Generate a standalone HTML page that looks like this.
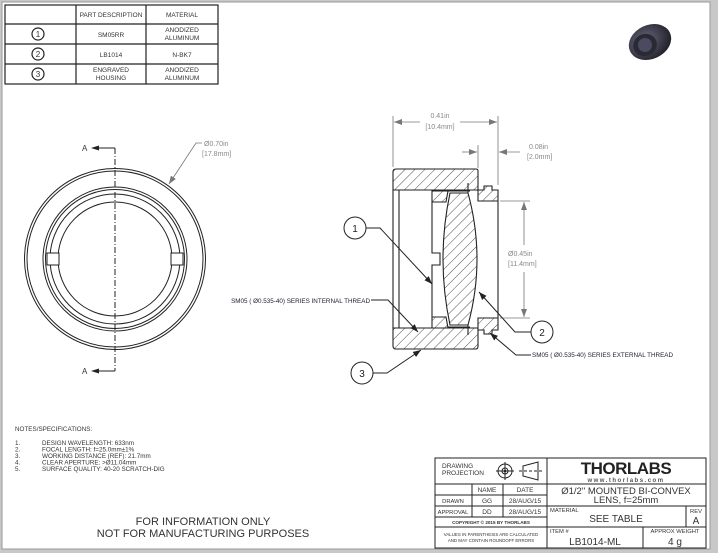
<!DOCTYPE html>
<html><head><meta charset="utf-8"><style>
html,body{margin:0;padding:0;background:#c8c8c8;}
svg{display:block;font-family:"Liberation Sans",sans-serif;}
</style></head><body>
<svg width="718" height="553" viewBox="0 0 718 553" xmlns="http://www.w3.org/2000/svg">
<defs>
<pattern id="h" patternUnits="userSpaceOnUse" width="7" height="7" patternTransform="rotate(45)">
<rect width="7" height="7" fill="#fff"/><line x1="0" y1="0" x2="0" y2="7" stroke="#222" stroke-width="0.8"/>
</pattern>
<marker id="ar" markerWidth="8" markerHeight="6" refX="8" refY="3" orient="auto" markerUnits="userSpaceOnUse"><path d="M0,0 L8,3 L0,6z" fill="#222"/></marker>
<marker id="ag" markerWidth="8" markerHeight="6" refX="8" refY="3" orient="auto" markerUnits="userSpaceOnUse"><path d="M0,0 L8,3 L0,6z" fill="#777"/></marker>
<radialGradient id="cg" cx="0.4" cy="0.4" r="0.7"><stop offset="0" stop-color="#6a6a80"/><stop offset="1" stop-color="#1a1a22"/></radialGradient>
</defs>
<rect x="2" y="2" width="708" height="547" fill="#fff" stroke="#999" stroke-width="1"/>

<!-- parts table -->
<g stroke="#222" stroke-width="1.2" fill="none">
<rect x="5" y="5" width="213" height="79"/>
<line x1="76" y1="5" x2="76" y2="84"/><line x1="146" y1="5" x2="146" y2="84"/>
<line x1="5" y1="24" x2="218" y2="24"/><line x1="5" y1="44" x2="218" y2="44"/><line x1="5" y1="64" x2="218" y2="64"/>
<circle cx="38" cy="34" r="6"/><circle cx="38" cy="54" r="6"/><circle cx="38" cy="74" r="6"/>
</g>
<g font-size="6.5" fill="#333" text-anchor="middle">
<text x="38" y="37" font-size="8">1</text><text x="38" y="57" font-size="8">2</text><text x="38" y="77" font-size="8">3</text>
<text x="111" y="17">PART DESCRIPTION</text><text x="182" y="17">MATERIAL</text>
<text x="111" y="37">SM05RR</text><text x="182" y="32">ANODIZED</text><text x="182" y="40">ALUMINUM</text>
<text x="111" y="57">LB1014</text><text x="182" y="57">N-BK7</text>
<text x="111" y="72">ENGRAVED</text><text x="111" y="80">HOUSING</text><text x="182" y="72">ANODIZED</text><text x="182" y="80">ALUMINUM</text>
</g>

<!-- photo -->
<g>
<ellipse cx="650" cy="42" rx="22" ry="17" fill="url(#cg)" transform="rotate(-25 650 42)"/>
<ellipse cx="645" cy="45" rx="12" ry="11" fill="#2a2a35" transform="rotate(-25 645 45)"/>
<ellipse cx="645" cy="45" rx="7" ry="7" fill="#4a4a60"/>
</g>

<!-- front view -->
<g stroke="#222" stroke-width="1" fill="none">
<circle cx="115" cy="259" r="90.5"/><circle cx="115" cy="259" r="88"/>
<circle cx="115" cy="259" r="72"/><circle cx="115" cy="259" r="69.5"/><circle cx="115" cy="259" r="65"/><circle cx="115" cy="259" r="57"/>
<rect x="47" y="253" width="12" height="12" fill="#fff"/><rect x="171" y="253" width="12" height="12" fill="#fff"/>
<line x1="115" y1="148" x2="115" y2="371" stroke-dasharray="6,2,1,2"/>
<line x1="115" y1="148" x2="95" y2="148"/><line x1="115" y1="371" x2="95" y2="371"/>
</g>
<path d="M91,148 L99,145.5 L99,150.5z M91,371 L99,368.5 L99,373.5z" fill="#222"/>
<text x="82" y="151" font-size="8" fill="#333">A</text><text x="82" y="374" font-size="8" fill="#333">A</text>
<path d="M202,143 L196,143 L169,184" stroke="#777" fill="none" stroke-width="0.8" marker-end="url(#ag)"/>
<text x="204" y="146" font-size="7" fill="#888">Ø0.70in</text><text x="202" y="156" font-size="7" fill="#888">[17.8mm]</text>

<!-- section view -->
<g stroke="#222" stroke-width="1.1">
<path d="M396,169 H476 Q478,169 478,171 V190 H393 V172 Q393,169 396,169z" fill="url(#h)"/>
<path d="M393,328 H478 V346 Q478,349 476,349 H396 Q393,349 393,346z" fill="url(#h)"/>
<path d="M478,190 H484 V186 H492 V190 H498 V201 H478z" fill="url(#h)"/>
<path d="M478,318 H498 V330 H492 V334 H484 V330 H478z" fill="url(#h)"/>
<line x1="393" y1="190" x2="393" y2="328" fill="none"/>
<line x1="399" y1="190" x2="399" y2="328" fill="none"/>
<line x1="498" y1="201" x2="498" y2="318" fill="none"/>
<line x1="478" y1="201" x2="498" y2="201"/><line x1="478" y1="318" x2="498" y2="318"/>
<path d="M432,191 H448 L446,202 H432z" fill="url(#h)"/>
<path d="M432,328 H448 L446,317 H432z" fill="url(#h)"/>
<path d="M432,202 V253 H440 V265 H432 V317" fill="none"/>
<path d="M450,193 Q436,259 450,325 L468,325 Q486,259 468,193z" fill="url(#h)"/>
<line x1="468" y1="183" x2="468" y2="193"/><line x1="468" y1="325" x2="468" y2="335"/>
<line x1="448" y1="191" x2="470" y2="191" fill="none"/><line x1="448" y1="327" x2="470" y2="327" fill="none"/>
</g>
<!-- dims -->
<g stroke="#777" stroke-width="0.8" fill="none">
<line x1="393" y1="116" x2="393" y2="167"/><line x1="498" y1="116" x2="498" y2="185"/>
<line x1="420" y1="122" x2="394" y2="122" marker-end="url(#ag)"/><line x1="460" y1="122" x2="497" y2="122" marker-end="url(#ag)"/>
<line x1="478" y1="145" x2="478" y2="168"/>
<line x1="462" y1="152" x2="477" y2="152" marker-end="url(#ag)"/><line x1="520" y1="152" x2="499" y2="152" marker-end="url(#ag)"/>
<line x1="500" y1="201" x2="530" y2="201"/><line x1="500" y1="318" x2="530" y2="318"/>
<line x1="524" y1="245" x2="524" y2="202" marker-end="url(#ag)"/><line x1="524" y1="272" x2="524" y2="317" marker-end="url(#ag)"/>
</g>
<g font-size="7" fill="#888">
<text x="440" y="118" text-anchor="middle">0.41in</text><text x="440" y="129" text-anchor="middle">[10.4mm]</text>
<text x="529" y="149">0.08in</text><text x="527" y="159">[2.0mm]</text>
<text x="508" y="256">Ø0.45in</text><text x="508" y="266">[11.4mm]</text>
</g>
<!-- balloons & leaders -->
<g stroke="#222" stroke-width="1" fill="none">
<circle cx="355" cy="228" r="11" fill="#fff"/><circle cx="542" cy="332" r="11" fill="#fff"/><circle cx="362" cy="373" r="11" fill="#fff"/>
<path d="M366,228 H380 L432,284" marker-end="url(#ar)"/>
<path d="M531,332 H515 L479,292" marker-end="url(#ar)"/>
<path d="M373,373 H387 L421,350" marker-end="url(#ar)"/>
<path d="M371,300 H388 L418,332" marker-end="url(#ar)"/>
<path d="M531,355 H516 L490,333" marker-end="url(#ar)"/>
</g>
<g text-anchor="middle" font-size="10" fill="#222"><text x="355" y="232">1</text><text x="542" y="336">2</text><text x="362" y="377">3</text></g>
<g font-size="6.3" fill="#223">
<text x="370" y="303" text-anchor="end">SM05 ( Ø0.535-40) SERIES INTERNAL THREAD</text>
<text x="532" y="357">SM05 ( Ø0.535-40) SERIES EXTERNAL THREAD</text>
</g>

<!-- notes -->
<g font-size="6.3" fill="#333">
<text x="15" y="431">NOTES/SPECIFICATIONS:</text>
<text x="15" y="445">1.</text><text x="42" y="445">DESIGN WAVELENGTH: 633nm</text>
<text x="15" y="451.5">2.</text><text x="42" y="451.5">FOCAL LENGTH: f=25.0mm±1%</text>
<text x="15" y="458">3.</text><text x="42" y="458">WORKING DISTANCE (REF): 21.7mm</text>
<text x="15" y="464.5">4.</text><text x="42" y="464.5">CLEAR APERTURE: &gt;Ø11.04mm</text>
<text x="15" y="471">5.</text><text x="42" y="471">SURFACE QUALITY: 40-20 SCRATCH-DIG</text>
</g>
<g font-size="11" fill="#333" text-anchor="middle">
<text x="203" y="525">FOR INFORMATION ONLY</text><text x="203" y="537">NOT FOR MANUFACTURING PURPOSES</text>
</g>

<!-- title block -->
<g stroke="#222" stroke-width="1" fill="none">
<rect x="435" y="458" width="271" height="90"/>
<line x1="547" y1="458" x2="547" y2="548"/>
<line x1="435" y1="484" x2="706" y2="484"/>
<line x1="435" y1="495" x2="547" y2="495"/><line x1="435" y1="506" x2="706" y2="506"/>
<line x1="435" y1="517" x2="547" y2="517"/><line x1="435" y1="527" x2="706" y2="527"/>
<line x1="472" y1="484" x2="472" y2="517"/><line x1="503" y1="484" x2="503" y2="517"/>
<line x1="686" y1="506" x2="686" y2="527"/><line x1="643" y1="527" x2="643" y2="548"/>
<circle cx="505" cy="471" r="7"/><circle cx="505" cy="471" r="3"/>
<line x1="496" y1="471" x2="514" y2="471"/><line x1="505" y1="462" x2="505" y2="480"/>
<path d="M523,466 L538,462 V480 L523,476z"/><line x1="519" y1="471" x2="542" y2="471" stroke-dasharray="3,2"/>
</g>
<circle cx="505" cy="471" r="1.3" fill="#222"/>
<g fill="#333" font-size="6.5">
<text x="442" y="468">DRAWING</text><text x="442" y="475">PROJECTION</text>
<text x="487" y="492" text-anchor="middle">NAME</text><text x="525" y="492" text-anchor="middle">DATE</text>
<text x="453" y="503" text-anchor="middle" font-size="5.8">DRAWN</text><text x="487" y="503" text-anchor="middle">GG</text><text x="525" y="503" text-anchor="middle">28/AUG/15</text>
<text x="453" y="514" text-anchor="middle" font-size="5.8">APPROVAL</text><text x="487" y="514" text-anchor="middle">DD</text><text x="525" y="514" text-anchor="middle">28/AUG/15</text>
<text x="491" y="524" text-anchor="middle" font-size="4.6" font-weight="bold">COPYRIGHT © 2015 BY THORLABS</text>
<text x="491" y="536" text-anchor="middle" font-size="4.4">VALUES IN PARENTHESIS ARE CALCULATED</text>
<text x="491" y="542" text-anchor="middle" font-size="4.4">AND MAY CONTAIN ROUNDOFF ERRORS</text>
<text x="626" y="474" text-anchor="middle" font-size="17" font-weight="bold" fill="#222" letter-spacing="-0.5">THORLABS</text>
<text x="626" y="482" text-anchor="middle" font-size="6" font-weight="bold" letter-spacing="1.5" fill="#555">www.thorlabs.com</text>
<text x="626" y="494" text-anchor="middle" font-size="9.5">Ø1/2" MOUNTED BI-CONVEX</text>
<text x="626" y="503" text-anchor="middle" font-size="9.5">LENS, f=25mm</text>
<text x="550" y="512" font-size="5.8">MATERIAL</text>
<text x="616" y="522" text-anchor="middle" font-size="10">SEE TABLE</text>
<text x="696" y="513" text-anchor="middle" font-size="5.8">REV</text><text x="696" y="524" text-anchor="middle" font-size="10">A</text>
<text x="550" y="533" font-size="5.8">ITEM #</text>
<text x="595" y="545" text-anchor="middle" font-size="10">LB1014-ML</text>
<text x="675" y="533" text-anchor="middle" font-size="5.8">APPROX WEIGHT</text>
<text x="675" y="545" text-anchor="middle" font-size="10">4 g</text>
</g>
</svg>
</body></html>
